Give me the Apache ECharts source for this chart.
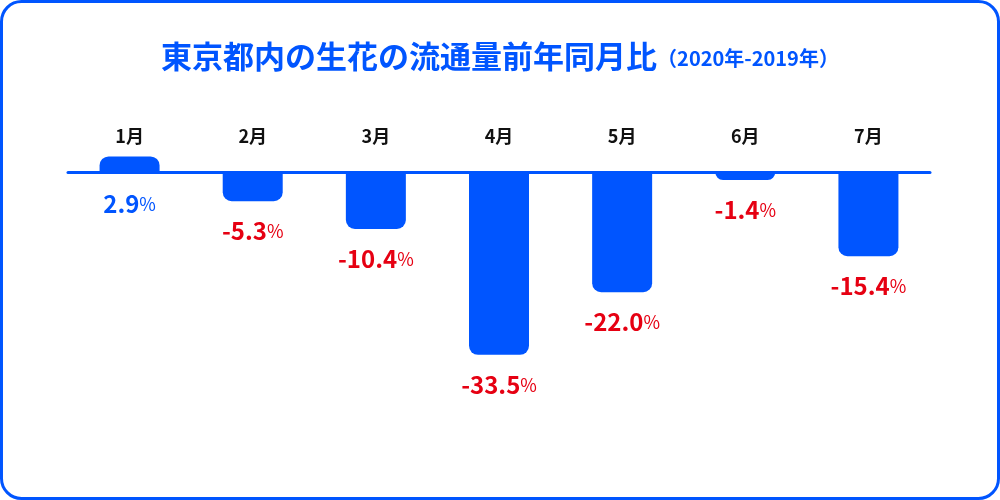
<!DOCTYPE html>
<html><head><meta charset="utf-8">
<script src="https://cdn.jsdelivr.net/npm/echarts@6/dist/echarts.min.js"></script>
<style>html,body{margin:0;padding:0;background:#fff}#c{width:1000px;height:500px}</style>
</head><body><div id="c"></div>
<script>
const months = ['1月','2月','3月','4月','5月','6月','7月'];
const values = [2.9, -5.3, -10.4, -33.5, -22.0, -1.4, -15.4];
const BLUE = '#0055ff', RED = '#e60012';
const FONT = '"Noto Sans CJK JP","Noto Sans",sans-serif';
const chart = echarts.init(document.getElementById('c'));
chart.setOption({
  animation:false,
  backgroundColor:'#fff',
  textStyle:{fontFamily:FONT},
  title:{
    text:'{a|東京都内の生花の流通量前年同月比}{b|（2020年-2019年）}',
    left:'center', top:36,
    textStyle:{rich:{
      a:{fontSize:31,fontWeight:'bold',color:BLUE,fontFamily:FONT},
      b:{fontSize:20,fontWeight:'bold',color:BLUE,fontFamily:FONT,padding:[3,0,0,0]}
    }}
  },
  graphic:[{type:'rect',shape:{x:1.5,y:1.5,width:997,height:497,r:20},style:{fill:'none',stroke:BLUE,lineWidth:3},silent:true}],
  grid:{left:68,right:70,top:145,height:218,containLabel:false},
  xAxis:[
    {type:'category',data:months,axisLine:{onZero:true,lineStyle:{color:BLUE,width:3}},axisTick:{show:false},axisLabel:{show:false}},
    {type:'category',data:months,position:'top',axisLine:{show:false},axisTick:{show:false},
     axisLabel:{margin:0,fontSize:18,fontWeight:'bold',color:'#111',fontFamily:FONT}}
  ],
  yAxis:{type:'value',min:-35,max:5,show:false,splitLine:{show:false}},
  series:[{
    type:'bar',barWidth:60,xAxisIndex:0,
    data:values.map(v=>({value:v,itemStyle:{color:BLUE,borderRadius:v>=0?[9,9,0,0]:[0,0,9,9]},
      label:{color:v>=0?BLUE:RED,position:'bottom',distance:v>=0?20:18}})),
    label:{show:true,position:'bottom',fontFamily:FONT,
      formatter:p=>'{n|'+p.value.toFixed(1)+'}{p|%}',
      rich:{n:{fontSize:24,fontWeight:'bold',fontFamily:FONT},p:{fontSize:18,fontFamily:FONT}}}
  }]
});
</script></body></html>
